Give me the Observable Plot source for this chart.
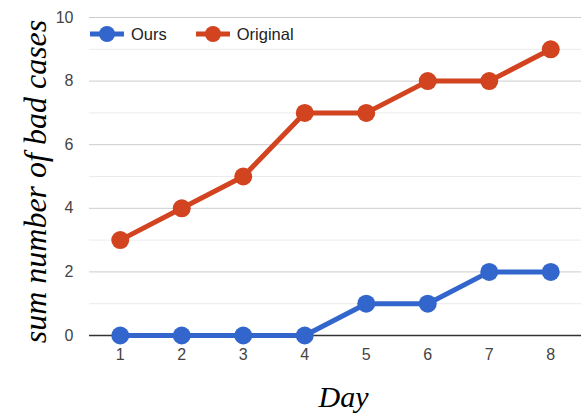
<!DOCTYPE html>
<html><head><meta charset="utf-8">
<script src="https://cdn.jsdelivr.net/npm/d3@7"></script>
<script src="https://cdn.jsdelivr.net/npm/@observablehq/plot@0.6"></script>
<style>
body{margin:0;background:#fff;}
#wrap{position:relative;width:581px;height:413px;}
#legend{position:absolute;left:90px;top:24px;height:20px;display:flex;align-items:center;font:16.5px "Liberation Sans",Arial,sans-serif;color:#222;}
.item{display:flex;align-items:center;margin-right:29px;}
.item svg{margin-right:7px;}
</style></head><body><div id="wrap"><div id="legend"></div></div>
<script>
const days=[1,2,3,4,5,6,7,8];
const ours=[0,0,0,0,1,1,2,2];
const original=[3,4,5,7,7,8,8,9];
const seriesNames=["Ours","Original"];
const seriesColors=["#3366cc","#d2431f"];
const yTicks=[0,2,4,6,8,10];
const yMinor=[1,3,5,7,9];
const xLabel="Day";
const yLabel="sum number of bad cases";

const data=[
  ...days.map((d,i)=>({day:d,value:ours[i],series:seriesNames[0]})),
  ...days.map((d,i)=>({day:d,value:original[i],series:seriesNames[1]}))
];

const tickFont={fontFamily:"Liberation Sans, Arial, sans-serif",fontSize:16,fill:"#444"};
const serif={fontFamily:"Liberation Serif, Times New Roman, serif",fontStyle:"italic",fill:"#000",textAnchor:"middle",lineAnchor:"middle"};

const chart=Plot.plot({
  width:581,height:413,
  marginLeft:89,marginRight:0,marginTop:17,marginBottom:78,
  x:{domain:[0.5,8.5]},
  y:{domain:[0,10]},
  color:{domain:seriesNames,range:seriesColors},
  style:{background:"#fff"},
  marks:[
    Plot.gridY(yMinor,{stroke:"#ebebeb",strokeOpacity:1}),
    Plot.gridY(yTicks.filter(v=>v>0),{stroke:"#cccccc",strokeOpacity:1}),
    Plot.ruleY([0],{stroke:"#333",strokeWidth:1.5}),
    Plot.axisY(yTicks,{tickSize:0,tickPadding:16,label:null,...tickFont}),
    Plot.axisX(days,{tickSize:0,tickPadding:13,label:null,...tickFont}),
    Plot.line(data,{x:"day",y:"value",stroke:"series",strokeWidth:5,z:"series"}),
    Plot.dot(data,{x:"day",y:"value",fill:"series",r:9}),
    Plot.text([yLabel],{text:d=>d,frameAnchor:"left",rotate:-90,dx:-54,dy:5,fontSize:32,...serif}),
    Plot.text([xLabel],{text:d=>d,frameAnchor:"bottom",dx:8,dy:62,fontSize:30,...serif})
  ]
});
document.getElementById("wrap").prepend(chart);

const legend=document.getElementById("legend");
seriesNames.forEach((name,i)=>{
  const item=document.createElement("div");
  item.className="item";
  item.innerHTML=`<svg width="34" height="20"><line x1="0" x2="34" y1="10" y2="10" stroke="${seriesColors[i]}" stroke-width="5"/><circle cx="17" cy="10" r="8" fill="${seriesColors[i]}"/></svg><span>${name}</span>`;
  legend.appendChild(item);
});
</script>
</body></html>
